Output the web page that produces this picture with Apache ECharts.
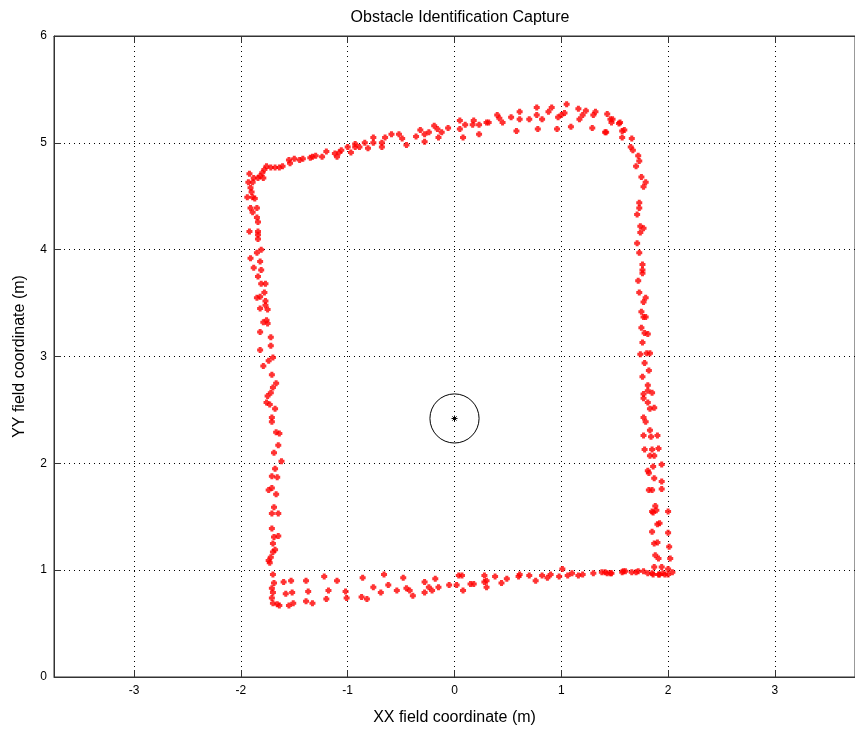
<!DOCTYPE html>
<html>
<head>
<meta charset="utf-8">
<script src="https://cdn.jsdelivr.net/npm/echarts@6/dist/echarts.min.js"></script>
<style>
    html, body { margin: 0; padding: 0; background: #fff; }
    #chart { width: 855px; height: 731px; }
</style>
</head>
<body>
<div id="chart"></div>
<script>
// scan points, one list per side of the capture (x, y in metres)
const topEdge = [
    [0.05, 5.21], [0.10, 5.17], [0.05, 5.13], [0.08, 5.05], [-0.06, 5.14], [-0.12, 5.10], [-0.15, 5.05], [-0.16, 5.13],
    [-0.19, 5.16], [-0.24, 5.10], [-0.28, 5.08], [-0.28, 5.01], [-0.32, 5.12], [-0.36, 5.06], [-0.45, 4.98], [-0.49, 5.04],
    [-0.52, 5.08], [-0.59, 5.08], [-0.65, 5.05], [-0.68, 5.00], [-0.68, 4.96], [-0.76, 5.05], [-0.76, 5.00], [-0.84, 5.00],
    [-0.81, 4.95], [-0.89, 4.96], [-0.93, 4.99], [-0.93, 4.96], [-1.00, 4.96], [-0.97, 4.91], [-1.06, 4.93], [-1.08, 4.91],
    [-1.12, 4.90], [-1.10, 4.87], [-1.20, 4.92], [-1.24, 4.87], [-1.30, 4.88], [-1.33, 4.87], [-1.35, 4.86], [-1.42, 4.85],
    [-1.45, 4.84], [-1.50, 4.85], [-1.55, 4.84], [-1.54, 4.81], [-1.61, 4.78], [-1.64, 4.77], [-1.68, 4.77], [-1.72, 4.77],
    [-1.76, 4.78], [-1.78, 4.75], [-1.80, 4.72], [-1.82, 4.69], [-1.84, 4.67], [-1.79, 4.67], [-1.88, 4.67], [-1.92, 4.71],
    [-1.93, 4.63], [-1.89, 4.63],
    [0.17, 5.17], [0.18, 5.21], [0.23, 5.17], [0.23, 5.08], [0.30, 5.19], [0.32, 5.19], [0.40, 5.26], [0.42, 5.23],
    [0.45, 5.19], [0.53, 5.24], [0.58, 5.11], [0.61, 5.29], [0.61, 5.22], [0.70, 5.22], [0.77, 5.33], [0.77, 5.26],
    [0.78, 5.13], [0.82, 5.22], [0.88, 5.29], [0.91, 5.33], [0.96, 5.13], [0.97, 5.24], [1.00, 5.26], [1.03, 5.28],
    [1.05, 5.36], [1.09, 5.15], [1.16, 5.32], [1.17, 5.22], [1.20, 5.26], [1.23, 5.30], [1.29, 5.14], [1.30, 5.26],
    [1.32, 5.29], [1.42, 5.10], [1.43, 5.27], [1.46, 5.22], [1.47, 5.19], [1.48, 5.22], [1.55, 5.19], [1.57, 5.11],
    [1.59, 5.12], [1.57, 5.05], [1.54, 5.18], [1.41, 5.10]
];

const leftEdge = [
    [-1.91, 4.58], [-1.90, 4.54], [-1.89, 4.49], [-1.87, 4.48], [-1.94, 4.49], [-1.91, 4.39], [-1.85, 4.39], [-1.89, 4.35],
    [-1.85, 4.30], [-1.84, 4.26], [-1.92, 4.17], [-1.84, 4.17], [-1.84, 4.14], [-1.84, 4.10], [-1.81, 4.00], [-1.85, 3.97],
    [-1.91, 3.92], [-1.82, 3.89], [-1.88, 3.83], [-1.81, 3.81], [-1.84, 3.75], [-1.81, 3.68], [-1.77, 3.68], [-1.78, 3.60],
    [-1.82, 3.56], [-1.85, 3.55], [-1.77, 3.52], [-1.77, 3.48], [-1.82, 3.45], [-1.75, 3.44], [-1.79, 3.32], [-1.76, 3.34],
    [-1.75, 3.31], [-1.82, 3.23], [-1.72, 3.18], [-1.72, 3.10], [-1.82, 3.06], [-1.70, 2.99], [-1.74, 2.96], [-1.79, 2.91],
    [-1.71, 2.83], [-1.67, 2.75], [-1.70, 2.71], [-1.72, 2.66], [-1.75, 2.63], [-1.76, 2.57], [-1.73, 2.55], [-1.68, 2.51],
    [-1.71, 2.43], [-1.71, 2.39], [-1.67, 2.29], [-1.64, 2.28], [-1.65, 2.17], [-1.69, 2.10], [-1.62, 2.02], [-1.68, 1.95],
    [-1.71, 1.88], [-1.66, 1.87], [-1.71, 1.77], [-1.74, 1.75], [-1.67, 1.71], [-1.69, 1.59], [-1.71, 1.53], [-1.65, 1.53],
    [-1.71, 1.39], [-1.69, 1.31], [-1.65, 1.32], [-1.70, 1.25], [-1.68, 1.19], [-1.70, 1.17], [-1.72, 1.12], [-1.73, 1.07],
    [-1.74, 1.09]
];

const bottomEdge = [
    [-1.70, 0.96], [-1.69, 0.88], [-1.60, 0.89], [-1.53, 0.90], [-1.39, 0.90], [-1.22, 0.94], [-1.10, 0.90], [-1.71, 0.83],
    [-1.70, 0.79], [-1.58, 0.78], [-1.52, 0.79], [-1.37, 0.80], [-1.18, 0.81], [-1.71, 0.74], [-1.70, 0.69], [-1.64, 0.67],
    [-1.66, 0.68], [-1.55, 0.67], [-1.51, 0.69], [-1.39, 0.71], [-1.33, 0.69], [-1.20, 0.73], [-1.02, 0.80], [-1.01, 0.74],
    [-0.87, 0.75], [-0.82, 0.73], [-0.86, 0.93], [-0.76, 0.84], [-0.69, 0.79], [-0.66, 0.96], [-0.62, 0.86], [-0.54, 0.81],
    [-0.48, 0.93], [-0.45, 0.83], [-0.42, 0.81], [-0.39, 0.76], [-0.28, 0.89], [-0.28, 0.79], [-0.24, 0.84], [-0.21, 0.81],
    [-0.18, 0.92], [-0.15, 0.84], [-0.05, 0.86], [0.02, 0.86], [0.04, 0.95], [0.07, 0.95], [0.08, 0.81], [0.15, 0.87],
    [0.18, 0.87], [0.28, 0.95], [0.28, 0.89], [0.30, 0.90], [0.30, 0.84], [0.38, 0.94], [0.44, 0.88], [0.49, 0.92],
    [0.60, 0.94], [0.61, 0.96], [0.70, 0.95], [0.76, 0.90], [0.82, 0.95], [0.87, 0.93], [0.90, 0.96], [0.98, 0.94],
    [1.01, 1.01], [1.06, 0.95], [1.10, 0.97], [1.16, 0.95], [1.20, 0.96], [1.30, 0.97], [1.38, 0.98], [1.41, 0.98],
    [1.43, 0.97], [1.46, 0.97], [1.47, 0.97], [1.57, 0.98], [1.58, 0.99], [1.60, 0.99], [1.66, 0.98], [1.70, 0.98],
    [1.72, 0.99], [1.77, 0.99], [1.85, 0.97], [1.92, 0.96], [1.97, 0.96], [2.00, 0.96]
];

const rightEdge = [
    [1.66, 5.04], [1.65, 4.96], [1.67, 4.93], [1.72, 4.88], [1.73, 4.83], [1.70, 4.78], [1.75, 4.68], [1.79, 4.63],
    [1.77, 4.59], [1.73, 4.44], [1.73, 4.39], [1.71, 4.33], [1.74, 4.22], [1.77, 4.20], [1.74, 4.16], [1.71, 4.06],
    [1.73, 3.97], [1.76, 3.86], [1.76, 3.81], [1.76, 3.78], [1.72, 3.71], [1.73, 3.60], [1.79, 3.55], [1.77, 3.51],
    [1.75, 3.42], [1.77, 3.37], [1.79, 3.37], [1.75, 3.27], [1.78, 3.22], [1.81, 3.21], [1.76, 3.13], [1.74, 3.02],
    [1.80, 3.03], [1.83, 3.03], [1.78, 2.94], [1.82, 2.87], [1.76, 2.81], [1.81, 2.73], [1.81, 2.68], [1.77, 2.65],
    [1.85, 2.66], [1.77, 2.61], [1.81, 2.57], [1.83, 2.51], [1.87, 2.52], [1.77, 2.43], [1.79, 2.39], [1.83, 2.31],
    [1.77, 2.26], [1.84, 2.25], [1.90, 2.26], [1.78, 2.13], [1.85, 2.13], [1.91, 2.14], [1.83, 2.07], [1.87, 2.07],
    [1.86, 1.97], [1.94, 1.99], [1.81, 1.93], [1.82, 1.91], [1.87, 1.86], [1.94, 1.83], [1.82, 1.75], [1.85, 1.75],
    [1.94, 1.76], [1.88, 1.60], [1.89, 1.56], [1.85, 1.55], [1.86, 1.54], [2.00, 1.55], [1.92, 1.44], [1.90, 1.43],
    [1.85, 1.36], [2.00, 1.35], [1.87, 1.25], [1.90, 1.26], [2.01, 1.22], [1.88, 1.14], [1.91, 1.11], [2.02, 1.11],
    [1.87, 1.03], [1.94, 1.03], [2.00, 1.01], [1.81, 0.97], [1.86, 0.96], [1.91, 0.96], [1.95, 0.97], [2.04, 0.98]
];

// obstacle: centre x, centre y, radius (m)
const obstacle = [[0, 2.42, 0.23]];

const xRange = [-3.75, 3.75];
const yRange = [0, 6];

const FONT = 'Liberation Sans, Arial, sans-serif';
const AXIS_COLOR = '#333';
// fat plus, close to the blurred MATLAB point marker
const blobSymbol = 'path://M1.5,0H4.5V1.5H6V4.5H4.5V6H1.5V4.5H0V1.5H1.5Z';

const chart = echarts.init(document.getElementById('chart'), null, {renderer: 'canvas'});

const gridDots = {show: true, lineStyle: {color: '#000', width: 1, type: [1, 4]}};

function xAxisBase(position) {
    return {
        type: 'value',
        position: position,
        min: xRange[0],
        max: xRange[1],
        minInterval: 1,
        maxInterval: 1,
        axisLine: {show: true, onZero: false, lineStyle: {color: AXIS_COLOR}},
        axisTick: {show: true, inside: true, length: 7, lineStyle: {color: AXIS_COLOR}},
    };
}

function renderObstacle(params, api) {
    const c = api.coord([api.value(0), api.value(1)]);
    const r = api.size([api.value(2), 0])[0];
    const s = 3;
    const d = s * 0.7;
    const star = [[-s, 0, s, 0], [0, -s, 0, s], [-d, -d, d, d], [-d, d, d, -d]].map(function(p) {
        return {
            type: 'line',
            shape: {x1: c[0] + p[0], y1: c[1] + p[1], x2: c[0] + p[2], y2: c[1] + p[3]},
            style: {stroke: '#000', lineWidth: 1},
        };
    });
    return {
        type: 'group',
        children: [{
            type: 'circle',
            shape: {cx: c[0], cy: c[1], r: r},
            style: {fill: 'none', stroke: '#000', lineWidth: 1},
        }].concat(star),
    };
}

const scanSeries = [topEdge, leftEdge, bottomEdge, rightEdge].map(function(pts) {
    return {
        type: 'scatter',
        data: pts,
        symbol: blobSymbol,
        symbolSize: 6,
        itemStyle: {color: '#ff0000'},
        silent: true,
        z: 3,
    };
});

chart.setOption({
    backgroundColor: '#fff',
    animation: false,
    title: {
        text: 'Obstacle Identification Capture',
        left: 455,
        textAlign: 'center',
        top: 5,
        textStyle: {fontFamily: FONT, fontSize: 16, fontWeight: 'normal', color: '#000'},
    },
    grid: {left: 54, top: 36, right: -1, bottom: 54, show: true, borderColor: AXIS_COLOR, borderWidth: 1},
    xAxis: [
        Object.assign(xAxisBase('bottom'), {
            name: 'XX field coordinate (m)',
            nameLocation: 'middle',
            nameGap: 33,
            nameTextStyle: {fontFamily: FONT, fontSize: 16, color: '#000'},
            axisLabel: {
                fontFamily: FONT, fontSize: 12, color: '#000', margin: 8,
                showMinLabel: false, showMaxLabel: false,
            },
            splitLine: gridDots,
        }),
        Object.assign(xAxisBase('top'), {
            axisLabel: {show: false},
            splitLine: {show: false},
        }),
    ],
    yAxis: {
        type: 'value',
        position: 'left',
        min: yRange[0],
        max: yRange[1],
        interval: 1,
        name: 'YY field coordinate (m)',
        nameLocation: 'middle',
        nameGap: 26,
        nameTextStyle: {fontFamily: FONT, fontSize: 16, color: '#000'},
        axisLine: {show: true, onZero: false, lineStyle: {color: AXIS_COLOR}},
        axisTick: {show: true, inside: true, length: 7, lineStyle: {color: AXIS_COLOR}},
        axisLabel: {fontFamily: FONT, fontSize: 12, color: '#000', margin: 7},
        splitLine: gridDots,
    },
    series: scanSeries.concat([{
        type: 'custom',
        data: obstacle,
        renderItem: renderObstacle,
        silent: true,
        z: 4,
    }]),
});
</script>
</body>
</html>
